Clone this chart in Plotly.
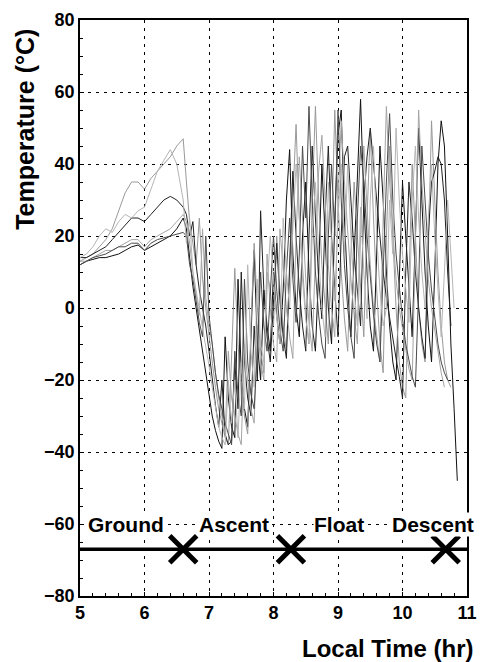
import plotly.graph_objects as go

# time grid (hr): ground phase every 0.1 hr, afterwards every 0.05 hr
time_hr = [5.0, 5.1, 5.2, 5.3, 5.4, 5.5, 5.6, 5.7, 5.8, 5.9, 6.0, 6.1, 6.2, 6.3, 6.4, 6.5, 6.6,
           6.65, 6.70, 6.75, 6.80, 6.85, 6.90, 6.95, 7.00, 7.05, 7.10, 7.15, 7.20, 7.25, 7.30, 7.35,
           7.40, 7.45, 7.50, 7.55, 7.60, 7.65, 7.70, 7.75, 7.80, 7.85, 7.90, 7.95, 8.00, 8.05, 8.10,
           8.15, 8.20, 8.25, 8.30, 8.35, 8.40, 8.45, 8.50, 8.55, 8.60, 8.65, 8.70, 8.75, 8.80, 8.85,
           8.90, 8.95, 9.00, 9.05, 9.10, 9.15, 9.20, 9.25, 9.30, 9.35, 9.40, 9.45, 9.50, 9.55, 9.60,
           9.65, 9.70, 9.75, 9.80, 9.85, 9.90, 9.95, 10.00, 10.05, 10.10, 10.15, 10.20, 10.25, 10.30,
           10.35, 10.40, 10.45, 10.50, 10.55, 10.60, 10.65, 10.70, 10.75, 10.80, 10.85, 10.90]

temp_a = [12, 13, 13.5, 14, 14, 14.5, 15, 16, 17, 17.5, 16, 17, 18, 19, 20, 22, 25,
          22, 14, 6, 0, -6, -12, -18, -24, -30, -34, -37, -39, -8, -25, -33, -36, 8, -18, -28, -33,
          -10, 16, -10, -20, 5, -5, -12, 10, -2, -10, 5, 30, 44, 15, 0, -8, 20, 35, 10, -5, -12,
          10, 40, 20, 0, -10, 25, 48, 55, 25, 5, -8, 15, 40, 58, 30, 10, -5, -12, 15, 45, 30, 10,
          -5, -15, -20, 5, 35, 20, 5, -8, 20, 50, 30, 10, -5, -15, 10, 40, 52, 45, 20, -10, -28,
          -48, None]

temp_b = [13, 14, 15, 17, 19, 22, 27, 32, 35, 35, 33, 36, 38, 40, 42, 45, 47,
          35, 24, 18, 12, 25, 8, 0, -8, -15, -22, -28, -32, -36, -38, -15, 11, -10, -22, -30, -35,
          -5, 18, 0, -12, -18, 10, 5, -5, 20, 5, -5, -12, 10, 30, 51, 25, 10, -2, -10, 30, 56,
          30, 12, 0, -10, 20, 55, 30, 10, -3, -12, 15, 35, 20, 5, -8, 25, 49, 25, 5, -10, -18,
          20, 45, 20, 0, -15, -22, -25, 5, 40, 20, 0, -10, -15, 15, 52, 30, 10, -5, -15, -20,
          -22, None, None, None]

temp_c = [14, 14, 15, 16, 17, 19, 21, 23, 25, 25, 24, 26, 28, 30, 31, 30, 28,
          26, 20, 24, 12, 5, 0, -5, -12, -20, -27, -33, -20, -35, -38, -37, -15, -28, 10, -15,
          -25, -30, -5, -20, 27, 5, -8, -15, 0, 18, 2, -8, -14, 15, 38, 20, 5, -5, -12, 20, 45,
          25, 8, -3, 25, 45, 20, 5, -8, 20, 42, 45, 30, 15, 5, -5, 30, 42, 50, 40, 28, 18, 10, 3,
          -3, -9, -14, -19, -25, 10, 35, 25, 10, 0, -8, -14, 20, 35, 38, 42, 40, 30, 10, -5,
          None, None, None]

temp_d = [13, 13, 14, 15, 16, 16, 17, 18, 19, 19, 17, 19, 20, 21, 22, 24, 26,
          24, 18, 10, 4, -2, 22, 3, -5, -10, -18, -25, -30, -35, -12, -25, -30, -35, -38, -10,
          -20, -28, -32, -5, -15, -20, 15, 0, -10, -15, 22, 10, 0, -8, -14, 20, 42, 25, 8, -4,
          -12, 15, 38, 48, 30, 12, 0, -8, 30, 52, 35, 20, 8, -2, -10, 20, 45, 28, 12, 0, -8, -15,
          25, 56, 35, 20, 8, 0, -6, -12, -17, -20, 15, 55, 35, 20, 8, 0, -6, -12, -18, -22,
          None, None, None, None, None]

temp_e = [12, 13, 14, 14.5, 15, 16, 17, 17, 18, 18, 16, 18, 19, 19.5, 20, 20.5, 21,
          20, 12, 8, 2, -4, -8, 20, -2, -10, -18, -24, -28, -32, -35, -38, -12, -24, -30, 8, -15,
          -24, -28, -12, 10, -5, -12, 5, 20, 5, -6, -12, 10, 25, 8, -4, 15, 45, 25, 56, 30, 10,
          -2, -10, -14, 20, 40, 20, 55, 30, 12, 0, -8, -14, 25, 45, 35, 20, 8, -2, -10, -15, 10,
          35, 54, 30, 15, 5, -3, -10, -15, -19, -22, 5, 45, 30, 15, 5, -3, -10, -15, -18, -20,
          None, None, None, None]

temp_f = [14, 15, 17, 20, 22, 21, 24, 26, 25, 27, 28, 33, 38, 41, 44, 40, 30,
          18, 25, 10, 5, 0, -5, -10, -16, -22, -28, -33, -36, -38, -20, -32, -20, -36, -15, -28,
          12, -12, -22, 8, -10, -15, 5, 20, 8, -3, -10, 25, 10, 0, 22, 40, 25, 8, -3, -10, 20,
          35, 15, 0, -8, 35, 18, 2, 25, 40, 15, 40, 20, 5, -5, 28, 10, -3, 30, 45, 20, 5, -5, 0,
          30, 15, 50, 30, 15, 5, -4, 30, 45, 25, 10, 0, 25, 40, 20, 5, -8, 10, 30, 15, 0,
          None, None]

series = [
    ("A", temp_a, "#111111"),
    ("B", temp_b, "#999999"),
    ("C", temp_c, "#222222"),
    ("D", temp_d, "#a5a5a5"),
    ("E", temp_e, "#4a4a4a"),
    ("F", temp_f, "#b5b5b5"),
]

# flight phases
phase_labels = ["Ground", "Ascent", "Float", "Descent"]
phase_label_time = [5.72, 7.38, 9.01, 10.47]
phase_boundaries = [6.6, 8.27, 10.67]
phase_line_temp = -67
phase_label_temp = -60
time_range = [5, 11]

fig = go.Figure()

for name, vals, col in series:
    fig.add_trace(go.Scatter(x=time_hr, y=vals, mode="lines", name=name,
                             line=dict(color=col, width=1), showlegend=False,
                             connectgaps=False))

fig.add_trace(go.Scatter(x=time_range, y=[phase_line_temp] * 2, mode="lines",
                         line=dict(color="black", width=3.5), showlegend=False))
fig.add_trace(go.Scatter(x=phase_boundaries, y=[phase_line_temp] * len(phase_boundaries),
                         mode="markers", showlegend=False,
                         marker=dict(symbol="x-thin", size=27, color="black",
                                     line=dict(color="black", width=5))))

for lab, t in zip(phase_labels, phase_label_time):
    fig.add_annotation(x=t, y=phase_label_temp, text=lab, showarrow=False,
                       bgcolor="white", borderpad=0,
                       font=dict(family="Liberation Sans, Arial", size=21, color="black",
                                 weight="bold"))

axis_font = dict(family="Liberation Sans, Arial", size=18, color="black", weight="bold")
grid_dash = "3px,5px"

fig.update_xaxes(range=time_range, dtick=1, tick0=5, showgrid=True, gridcolor="black",
                 gridwidth=1.3, griddash=grid_dash, showline=True, linecolor="black",
                 linewidth=1.5, mirror=True, ticks="inside", ticklen=4, tickcolor="black",
                 tickfont=axis_font, zeroline=False,
                 minor=dict(dtick=0.2, ticks="inside", ticklen=3, tickcolor="black",
                            showgrid=False))
fig.update_yaxes(range=[-80, 80], dtick=20, showgrid=True, gridcolor="black",
                 gridwidth=1.3, griddash=grid_dash, showline=True, linecolor="black",
                 linewidth=1.5, mirror=True, ticks="inside", ticklen=4, tickcolor="black",
                 tickfont=axis_font, zeroline=False,
                 minor=dict(dtick=5, ticks="inside", ticklen=3, tickcolor="black",
                            showgrid=False))

fig.add_annotation(xref="paper", yref="paper", x=1.022, y=-0.092, xanchor="right",
                   yanchor="middle", text="Local Time (hr)", showarrow=False,
                   font=dict(family="Liberation Sans, Arial", size=24, color="black",
                             weight="bold"))
fig.add_annotation(xref="paper", yref="paper", x=-0.141, y=0.81, xanchor="center",
                   yanchor="middle", text="Temperature (°C)", textangle=-90,
                   showarrow=False,
                   font=dict(family="Liberation Sans, Arial", size=25, color="black",
                             weight="bold"))

fig.update_layout(width=487, height=662, margin=dict(l=80, r=10, t=20, b=66),
                  plot_bgcolor="white", paper_bgcolor="white")

fig.write_html("out.html")
